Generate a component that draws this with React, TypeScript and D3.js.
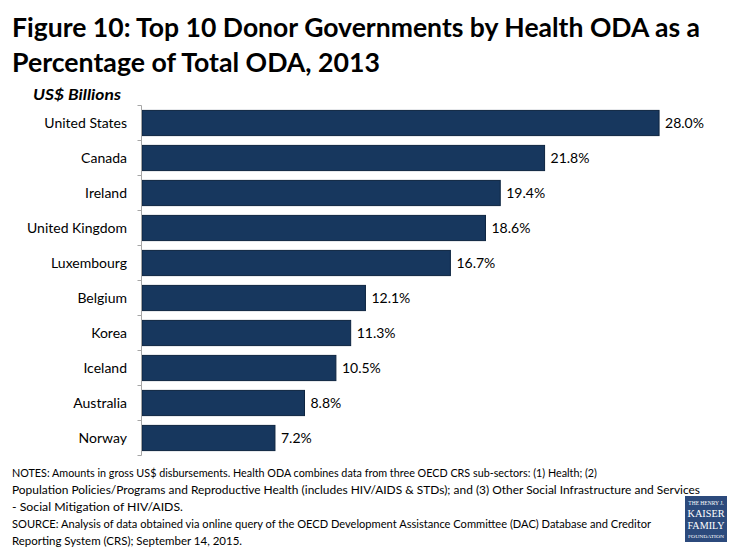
import React from "react";
import * as d3 from "d3";

const countries = [
  "United States",
  "Canada",
  "Ireland",
  "United Kingdom",
  "Luxembourg",
  "Belgium",
  "Korea",
  "Iceland",
  "Australia",
  "Norway",
];
const shares = [28.0, 21.8, 19.4, 18.6, 16.7, 12.1, 11.3, 10.5, 8.8, 7.2];

const titleLines = [
  "Figure 10: Top 10 Donor Governments by Health ODA as a",
  "Percentage of Total ODA, 2013",
];
const noteLines = [
  "NOTES: Amounts in gross US$ disbursements. Health ODA combines data from three OECD CRS sub-sectors: (1) Health; (2)",
  "Population Policies/Programs and Reproductive Health (includes HIV/AIDS & STDs); and (3) Other Social Infrastructure and Services",
  "- Social Mitigation of HIV/AIDS.",
  "SOURCE: Analysis of data obtained via online query of the OECD Development Assistance Committee (DAC) Database and Creditor",
  "Reporting System (CRS); September 14, 2015.",
];
const noteWidths = [585, 688, 171, 639, 230];
const logoLines = ["THE HENRY J.", "KAISER", "FAMILY", "FOUNDATION"];

const W = 735;
const H = 551;
const FONT = "Lato, 'Open Sans', sans-serif";
const SERIF = "'Liberation Serif', serif";

const App: React.FC = () => {
  const x = d3.scaleLinear().domain([0, 30]).range([142, 696]);
  const y = d3
    .scaleBand()
    .domain(countries)
    .range([105.5, 455.5])
    .paddingInner(0.28)
    .paddingOuter(0.14);
  const step = y.step();
  const boundaries = d3.range(countries.length + 1).map((i) => 105.5 + i * step);

  return (
    <svg
      width={W}
      height={H}
      style={{ position: "absolute", left: 0, top: 0, background: "#fff" }}
      fontFamily={FONT}
    >
      <rect width={W} height={H} fill="#fff" />
      {/* title */}
      <text x={12} y={37} fontSize={26} fontWeight={700} fill="#000" textLength={688} lengthAdjust="spacingAndGlyphs">
        {titleLines[0]}
      </text>
      <text x={12} y={72} fontSize={26} fontWeight={700} fill="#000" textLength={368} lengthAdjust="spacingAndGlyphs">
        {titleLines[1]}
      </text>
      <text x={33} y={100} fontSize={16} fontWeight={700} fontStyle="italic" fill="#000" textLength={88} lengthAdjust="spacingAndGlyphs">
        US$ Billions
      </text>

      {/* bars */}
      {countries.map((c, i) => (
        <g key={c}>
          <rect
            x={x(0)}
            y={y(c)}
            width={x(shares[i]) - x(0)}
            height={y.bandwidth()}
            fill="#17375e"
            stroke="#0d2440"
            strokeWidth={1}
          />
          <text x={127} y={y(c)! + y.bandwidth() / 2} dy="0.35em" textAnchor="end" fontSize={14} fill="#000">
            {c}
          </text>
          <text x={x(shares[i]) + 6} y={y(c)! + y.bandwidth() / 2} dy="0.35em" fontSize={14} fill="#000">
            {shares[i].toFixed(1)}%
          </text>
        </g>
      ))}

      {/* axis */}
      <line x1={141.5} x2={141.5} y1={boundaries[0]} y2={boundaries[boundaries.length - 1]} stroke="#a6a6a6" />
      {boundaries.map((b, i) => (
        <line key={i} x1={137.5} x2={141.5} y1={b} y2={b} stroke="#a6a6a6" />
      ))}

      {/* notes */}
      {noteLines.map((l, i) => (
        <text key={i} x={12} y={477 + i * 17} fontSize={11.5} fill="#000" textLength={noteWidths[i]} lengthAdjust="spacingAndGlyphs">
          {l}
        </text>
      ))}

      {/* logo */}
      <rect x={685} y={496} width={42} height={46} fill="#2c4a7c" />
      <text x={706} y={505} textAnchor="middle" fontSize={5.5} fill="#fff" fontFamily={SERIF}>
        {logoLines[0]}
      </text>
      <text x={706} y={517} textAnchor="middle" fontSize={11} fill="#fff" fontFamily={SERIF} textLength={37} lengthAdjust="spacingAndGlyphs">
        {logoLines[1]}
      </text>
      <text x={706} y={529} textAnchor="middle" fontSize={11} fill="#fff" fontFamily={SERIF} textLength={37} lengthAdjust="spacingAndGlyphs">
        {logoLines[2]}
      </text>
      <text x={706} y={538} textAnchor="middle" fontSize={5} fill="#fff" fontFamily={SERIF} textLength={36} lengthAdjust="spacingAndGlyphs">
        {logoLines[3]}
      </text>
    </svg>
  );
};

export default App;
